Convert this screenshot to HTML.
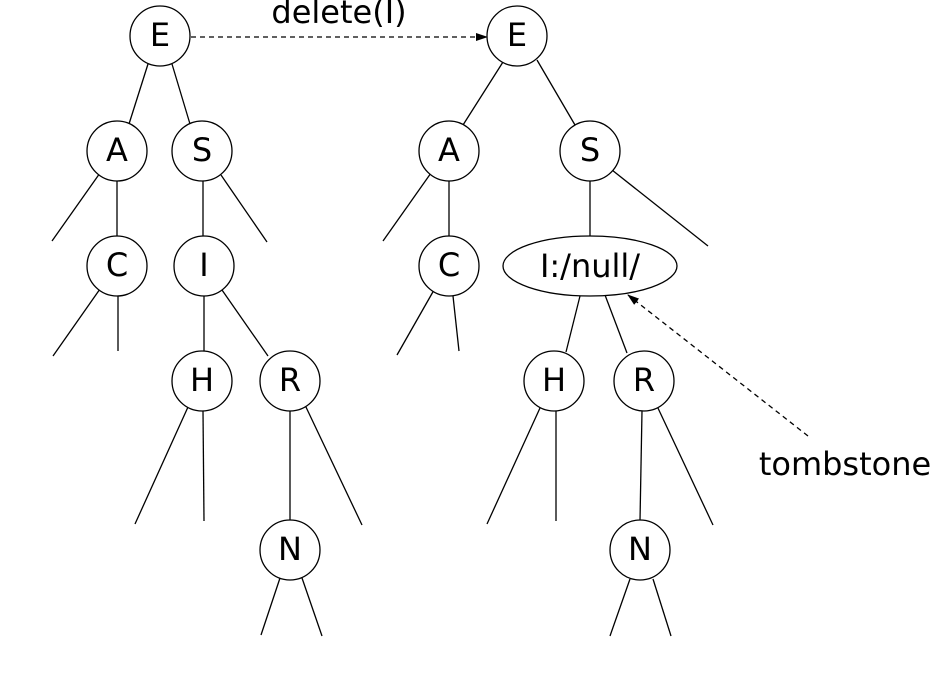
<!DOCTYPE html>
<html><head><style>
html,body{margin:0;padding:0;background:#fff;}
svg{display:block;}
text{font-family:"DejaVu Sans","Liberation Sans",sans-serif;fill:#000;}
</style></head><body>
<svg width="948" height="699" viewBox="0 0 948 699" xmlns="http://www.w3.org/2000/svg">
<defs>
<marker id="ah" markerWidth="12" markerHeight="8" refX="11" refY="4" orient="auto" markerUnits="userSpaceOnUse">
<path d="M0,0 L12,4 L0,8 Z" fill="#000"/>
</marker>
</defs>
<g stroke="#000" stroke-width="1.3" fill="none">
<line x1="148" y1="64" x2="129" y2="124"/>
<line x1="172" y1="64" x2="190" y2="124"/>
<line x1="100" y1="173" x2="52" y2="241"/>
<line x1="117" y1="181" x2="117" y2="236"/>
<line x1="203" y1="181" x2="203" y2="236"/>
<line x1="221" y1="175" x2="267" y2="242"/>
<line x1="100" y1="289" x2="53" y2="356"/>
<line x1="118" y1="296" x2="118" y2="351"/>
<line x1="204" y1="296" x2="204" y2="352"/>
<line x1="222" y1="290" x2="268" y2="356"/>
<line x1="188" y1="407" x2="135" y2="524"/>
<line x1="203" y1="411" x2="204" y2="521"/>
<line x1="290" y1="411" x2="290" y2="521"/>
<line x1="305" y1="405" x2="362" y2="525"/>
<line x1="280" y1="578" x2="261" y2="635"/>
<line x1="302" y1="578" x2="322" y2="636"/>
<line x1="503" y1="62" x2="463" y2="125"/>
<line x1="537" y1="60" x2="575" y2="125"/>
<line x1="431" y1="173" x2="383" y2="241"/>
<line x1="449" y1="181" x2="449" y2="236"/>
<line x1="590" y1="181" x2="590" y2="236"/>
<line x1="612" y1="170" x2="708" y2="246"/>
<line x1="434" y1="290" x2="397" y2="355"/>
<line x1="453" y1="296" x2="459" y2="351"/>
<line x1="580" y1="296" x2="566" y2="352"/>
<line x1="605" y1="295" x2="627" y2="353"/>
<line x1="540" y1="408" x2="487" y2="524"/>
<line x1="556" y1="411" x2="556" y2="521"/>
<line x1="642" y1="411" x2="640" y2="521"/>
<line x1="657" y1="406" x2="713" y2="525"/>
<line x1="630" y1="579" x2="610" y2="636"/>
<line x1="653" y1="579" x2="671" y2="636"/>
<line x1="191" y1="37" x2="487" y2="37" stroke-dasharray="5,4" marker-end="url(#ah)"/>
<line x1="808" y1="436" x2="628" y2="295" stroke-dasharray="5,4" marker-end="url(#ah)"/>
</g>
<g stroke="#000" stroke-width="1.3" fill="#fff">
<circle cx="160" cy="36" r="30"/>
<circle cx="117" cy="151" r="30"/>
<circle cx="202" cy="151" r="30"/>
<circle cx="117" cy="266" r="30"/>
<circle cx="204" cy="266" r="30"/>
<circle cx="202" cy="381" r="30"/>
<circle cx="290" cy="381" r="30"/>
<circle cx="290" cy="550" r="30"/>
<circle cx="517" cy="36" r="30"/>
<circle cx="449" cy="151" r="30"/>
<circle cx="590" cy="151" r="30"/>
<circle cx="449" cy="266" r="30"/>
<ellipse cx="590" cy="266" rx="87" ry="30"/>
<circle cx="554" cy="381" r="30"/>
<circle cx="644" cy="381" r="30"/>
<circle cx="640" cy="550" r="30"/>
</g>
<g font-size="32" text-anchor="middle" dominant-baseline="central">
<text x="160" y="35">E</text>
<text x="117" y="150">A</text>
<text x="202" y="150">S</text>
<text x="117" y="265">C</text>
<text x="204" y="265">I</text>
<text x="202" y="380">H</text>
<text x="290" y="380">R</text>
<text x="290" y="549">N</text>
<text x="517" y="35">E</text>
<text x="449" y="150">A</text>
<text x="590" y="150">S</text>
<text x="449" y="265">C</text>
<text x="554" y="380">H</text>
<text x="644" y="380">R</text>
<text x="640" y="549">N</text>
<text x="590" y="266">I:/null/</text>
<text x="339" y="12">delete(I)</text>
<text x="845" y="464">tombstone</text>
</g>
</svg>
</body></html>
